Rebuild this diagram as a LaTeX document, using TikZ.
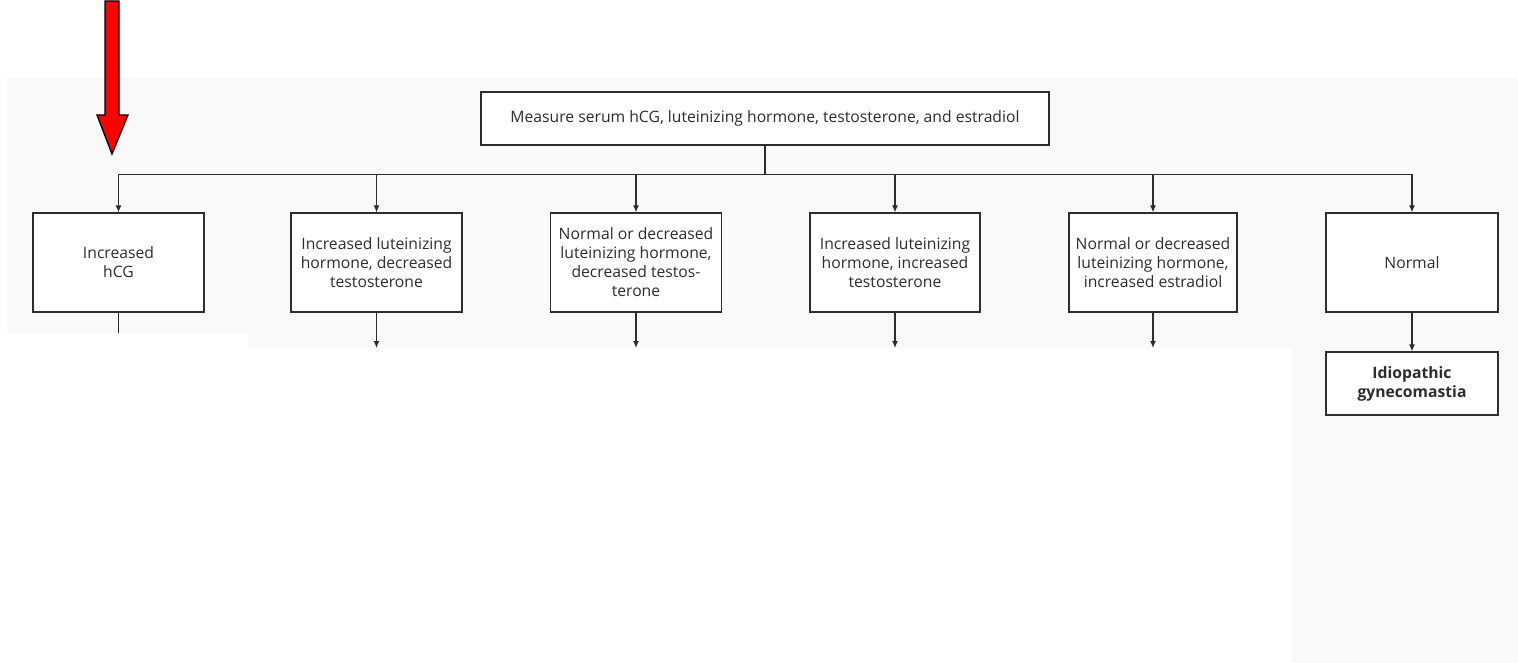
\documentclass[tikz,border=0pt]{standalone}
\usepackage{fontspec}
\setmainfont{Open Sans}
\usetikzlibrary{arrows.meta}
\definecolor{panel}{RGB}{249,249,249}
\definecolor{ink}{RGB}{45,45,45}
\tikzset{
  box/.style={draw=ink, line width=1.2pt, fill=white, align=center,
    font=\fontsize{15.7}{19}\selectfont, text=ink, inner sep=2pt},
  wide/.style={box, minimum width=171pt, minimum height=99pt},
  link/.style={draw=ink, line width=1.2pt},
  arr/.style={link, -{Latex[length=7pt,width=6pt]}},
}
\begin{document}
\begin{tikzpicture}[x=1pt,y=-1pt]
\useasboundingbox (0,0) rectangle (1518,663);
% light panel behind the flowchart
\fill[panel] (7,78) -- (1518,78) -- (1518,663) -- (1293,663) -- (1293,348)
  -- (248,348) -- (248,333) -- (7,333) -- cycle;

% first step
\node[box, minimum width=568pt, minimum height=53pt] (top) at (765,118.5)
  {Measure serum hCG, luteinizing hormone, testosterone, and estradiol};

% results
\node[wide] (b1) at (118.5,262.5) {Increased\\hCG};
\node[wide] (b2) at (376.5,262.5) {Increased luteinizing\\hormone, decreased\\testosterone};
\node[wide] (b3) at (636,262.5) {Normal or decreased\\luteinizing hormone,\\decreased testos-\\terone};
\node[wide, minimum width=170pt] (b4) at (895,262.5) {Increased luteinizing\\hormone, increased\\testosterone};
\node[wide, minimum width=168pt] (b5) at (1153,262.5) {Normal or decreased\\luteinizing hormone,\\increased estradiol};
\node[wide, minimum width=172pt] (b6) at (1412,262.5) {Normal};
\node[box, minimum width=172pt, minimum height=63pt, font=\fontsize{15.7}{19}\selectfont\bfseries] (idio) at (1412,383.5)
  {Idiopathic\\gynecomastia};

% branching lines
\draw[link] (top.south) -- ++(0,29);
\foreach \b in {b1,b2,b3,b4,b5,b6}
  \draw[arr] (top.south) -- ++(0,29) -| (\b.north);

% continuations below the results
\coordinate (e1) at (118.5,333);
\coordinate (e2) at (376.5,348);
\coordinate (e3) at (636,348);
\coordinate (e4) at (895,348);
\coordinate (e5) at (1153,348);
\draw[link] (b1) -- (e1);
\foreach \b/\e in {b2/e2,b3/e3,b4/e4,b5/e5}
  \draw[arr] (\b) -- (\e);
\draw[arr] (b6) -- (idio);

% red pointer
\draw[black, line width=1.3pt, fill=red, line join=miter]
  (105,1) -- (119,1) -- (119,115) -- (128,115) -- (112,154) -- (97,115)
  -- (105,115) -- cycle;
\end{tikzpicture}
\end{document}
